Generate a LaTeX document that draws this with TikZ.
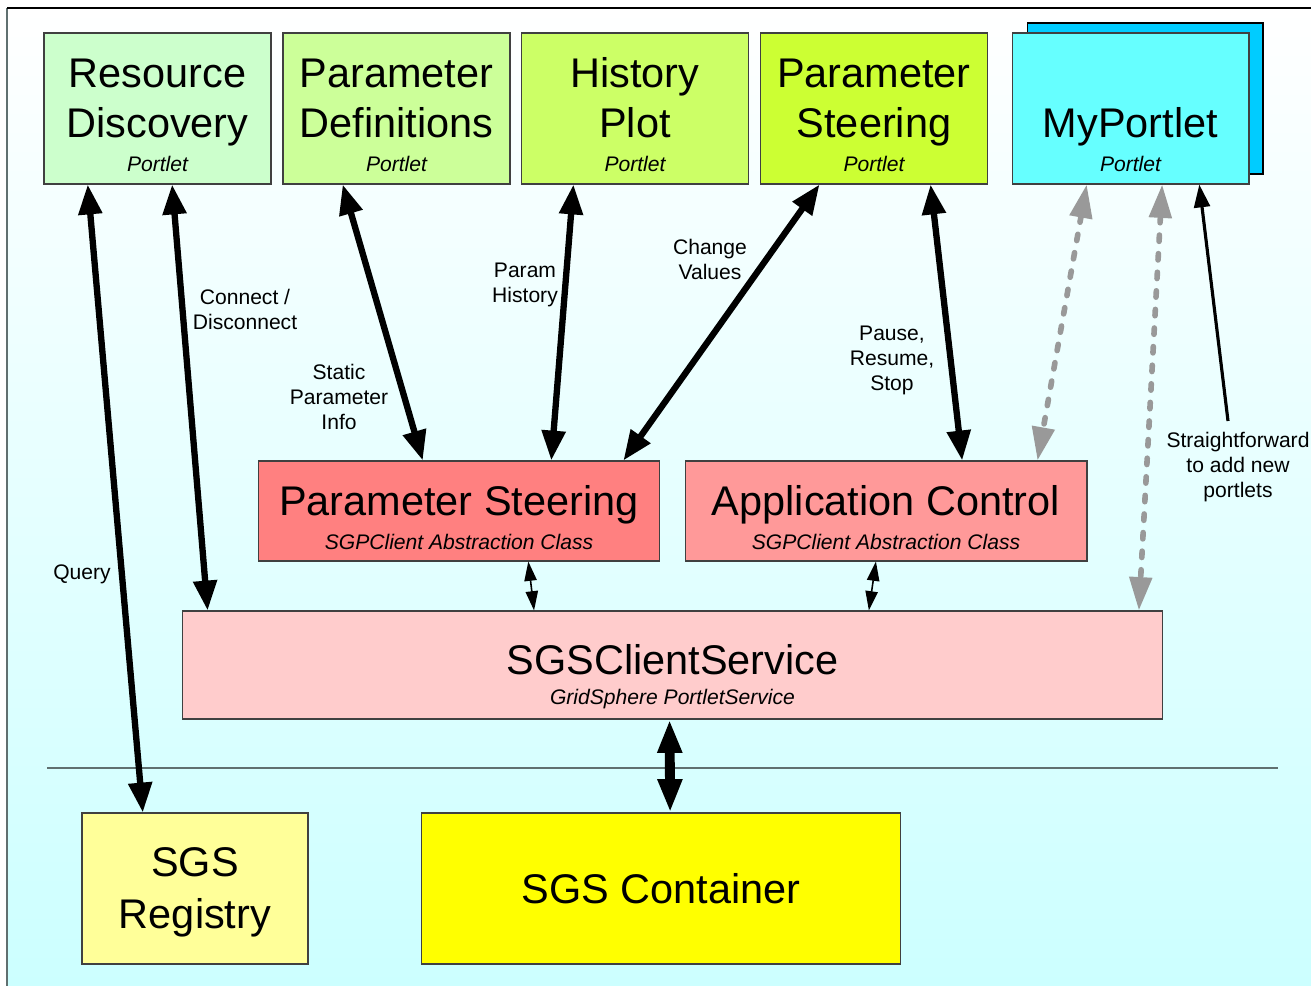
\documentclass[tikz,border=0pt]{standalone}
\usepackage{fontspec}
\setmainfont{Liberation Sans}
\usetikzlibrary{arrows.meta,calc}

\definecolor{bgcyan}{HTML}{CCFFFF}
\definecolor{bgmid}{HTML}{DAFFFF}
\definecolor{framegray}{HTML}{607070}
\definecolor{rdgreen}{HTML}{CCFFCC}
\definecolor{pdgreen}{HTML}{CCFF99}
\definecolor{hpgreen}{HTML}{CCFF66}
\definecolor{stgreen}{HTML}{CCFF33}
\definecolor{mpcyan}{HTML}{66FFFF}
\definecolor{mpblue}{HTML}{00CCFF}
\definecolor{psred}{HTML}{FF8080}
\definecolor{acred}{HTML}{FF9999}
\definecolor{svpink}{HTML}{FFCCCC}
\definecolor{regyellow}{HTML}{FFFF99}
\definecolor{contyellow}{HTML}{FFFF00}
\definecolor{dashgray}{HTML}{999999}

\newcommand{\titlefont}{\fontsize{23.6pt}{28.5pt}\selectfont}
\newcommand{\subfont}{\fontsize{12pt}{14pt}\selectfont\itshape}
\newcommand{\labelfont}{\fontsize{12pt}{14.2pt}\selectfont}
\newcommand{\lift}[1]{\rule{0pt}{#1}}

\tikzset{
  box/.style={draw=black!75, line width=0.6pt, align=center, font=\titlefont, inner sep=0pt},
  portlet/.style={box, minimum width=4.54cm, minimum height=3.02cm},
  client/.style={box, minimum width=8.04cm, minimum height=2cm},
  lbl/.style={font=\labelfont, align=center, inner sep=0pt},
  bigarrow/.style={line width=3.6pt, {Triangle[length=17pt,width=13pt]}-{Triangle[length=17pt,width=13pt]}},
  fatarrow/.style={line width=5.6pt, {Triangle[length=19pt,width=13pt]}-{Triangle[length=19pt,width=13pt]}},
  smallarrow/.style={line width=0.9pt, {Triangle[length=11pt,width=7pt]}-{Triangle[length=11pt,width=7pt]}},
  dasharrow/.style={draw=dashgray, line width=3.2pt, line cap=round, dash pattern=on 3.6pt off 7pt,
    {Triangle[length=19pt,width=12.5pt]}-{Triangle[length=19pt,width=12.5pt]}},
  thinarrow/.style={line width=1.8pt, -{Triangle[length=13pt,width=9pt]}}
}

\begin{document}
\begin{tikzpicture}[x=0.02cm, y=-0.02cm]
  \useasboundingbox (0,0) rectangle (1311,986);
  % background and frame
  \shade[top color=white, middle color=bgmid, bottom color=bgcyan] (7,8) rectangle (1311,986);
  \draw[framegray, line width=1pt] (7,986) -- (7,8);
  \draw[black, line width=1pt] (7,8) -- (1311,8);
  \draw[framegray, line width=1.2pt] (47,768) -- (1278,768);

  % portlets
  \node[portlet, fill=rdgreen] (rd) at (157.5,108.5) {\lift{23.9pt}Resource\\Discovery\\[-9.5pt]{\subfont Portlet}};
  \node[portlet, fill=pdgreen] (pd) at (396.5,108.5) {\lift{23.9pt}Parameter\\Definitions\\[-9.5pt]{\subfont Portlet}};
  \node[portlet, fill=hpgreen] (hp) at (635,108.5) {\lift{23.9pt}History\\Plot\\[-9.5pt]{\subfont Portlet}};
  \node[portlet, fill=stgreen] (pst) at (874,108.5) {\lift{23.9pt}Parameter\\Steering\\[-9.5pt]{\subfont Portlet}};
  \node[portlet, minimum width=4.72cm, fill=mpblue, draw=black] (mpback) at (1145,98.5) {};
  \node[portlet, minimum width=4.74cm, fill=mpcyan] (mp) at (1130.5,108.5) {\lift{52.3pt}MyPortlet\\[-9.5pt]{\subfont Portlet}};

  % client abstraction classes
  \node[client, fill=psred] (ps) at (459,511) {\lift{24.1pt}Parameter Steering\\[-9.2pt]{\subfont SGPClient Abstraction Class}};
  \node[client, fill=acred] (ac) at (886,511) {\lift{24.1pt}Application Control\\[-9.2pt]{\subfont SGPClient Abstraction Class}};

  % service
  \node[box, minimum width=19.62cm, minimum height=2.16cm, fill=svpink] (sgscs) at (672.5,665)
    {\lift{30.4pt}SGSClientService\\[-10.9pt]{\subfont GridSphere PortletService}};

  % grid side
  \node[box, minimum width=4.52cm, minimum height=3.02cm, fill=regyellow] (reg) at (195,888.5) {\lift{20.3pt}SGS\\[1.1pt]Registry};
  \node[box, minimum width=9.6cm, minimum height=3.02cm, fill=contyellow] (cont) at (661,888.5) {SGS Container};

  % labels
  \node[lbl] (query) at (82,574) {Query};
  \node[lbl] (conn) at (245,309) {Connect /\\Disconnect};
  \node[lbl] (static) at (339,397) {Static\\Parameter\\Info};
  \node[lbl] (phist) at (525,285) {Param\\History};
  \node[lbl] (change) at (710,259) {Change\\Values};
  \node[lbl] (pause) at (892,360) {Pause,\\Resume,\\Stop};
  \node[lbl] (easy) at (1238,467) {Straightforward\\to add new\\portlets};
  \coordinate (easytail) at (1228,421);

  % connectors
  \draw[bigarrow] ($(rd.south west)!0.194!(rd.south east)$) -- ($(reg.north west)!0.27!(reg.north east)$);
  \draw[bigarrow] ($(rd.south west)!0.564!(rd.south east)$) -- ($(sgscs.north west)!0.0265!(sgscs.north east)$);
  \draw[bigarrow] ($(pd.south west)!0.264!(pd.south east)$) -- ($(ps.north west)!0.41!(ps.north east)$);
  \draw[bigarrow] ($(hp.south west)!0.23!(hp.south east)$) -- ($(ps.north west)!0.729!(ps.north east)$);
  \draw[bigarrow] ($(pst.south west)!0.261!(pst.south east)$) -- ($(ps.north west)!0.908!(ps.north east)$);
  \draw[bigarrow] ($(pst.south west)!0.748!(pst.south east)$) -- ($(ac.north west)!0.689!(ac.north east)$);
  \draw[dasharrow] ($(mp.south west)!0.316!(mp.south east)$) -- ($(ac.north west)!0.876!(ac.north east)$);
  \draw[dasharrow] ($(mp.south west)!0.633!(mp.south east)$) -- ($(sgscs.north west)!0.975!(sgscs.north east)$);
  \draw[thinarrow] (easytail) -- ($(mp.south west)!0.789!(mp.south east)$);
  \draw[smallarrow] ($(ps.south west)!0.672!(ps.south east)$) -- ($(sgscs.north west)!0.359!(sgscs.north east)$);
  \draw[smallarrow] ($(ac.south west)!0.475!(ac.south east)$) -- ($(sgscs.north west)!0.700!(sgscs.north east)$);
  \draw[fatarrow] ($(sgscs.south west)!0.497!(sgscs.south east)$) -- ($(cont.north west)!0.519!(cont.north east)$);
\end{tikzpicture}
\end{document}
